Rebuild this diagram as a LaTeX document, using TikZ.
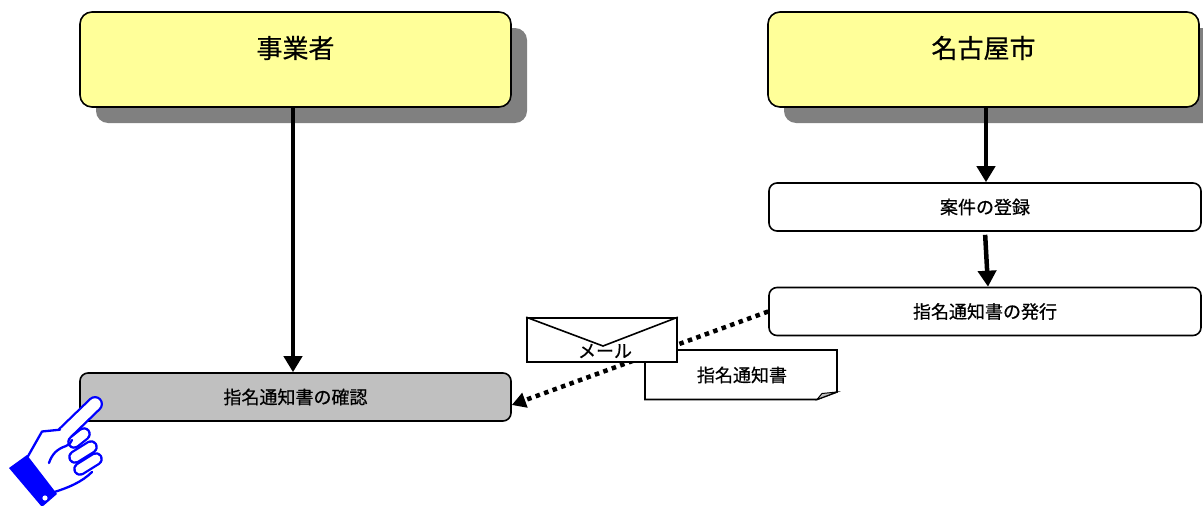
\documentclass[tikz,border=0pt]{standalone}
\usepackage{fontspec}
\setmainfont{Noto Sans CJK JP}[FakeBold=0.6]
\usetikzlibrary{arrows.meta,shadows}
\definecolor{yel}{HTML}{FFFF99}
\definecolor{shad}{HTML}{808080}
\definecolor{gbox}{HTML}{C0C0C0}
\definecolor{hblue}{HTML}{0000FF}
\tikzset{
  bigbox/.style={draw=black, line width=1.6pt, rounded corners=12pt, fill=yel,
    minimum width=431pt, minimum height=95pt, inner sep=0pt,
    drop shadow={shadow xshift=16pt, shadow yshift=-16pt, fill=shad, opacity=1}},
  bigtext/.style={font=\fontsize{26}{30}\selectfont, inner sep=0pt},
  stepbox/.style={draw=black, line width=1.6pt, rounded corners=8pt, fill=white,
    minimum width=432pt, minimum height=48pt, inner sep=0pt,
    font=\fontsize{18}{21}\selectfont},
  arr/.style={line width=4.5pt, -{Triangle[length=16pt,width=18pt]}},
  dotarr/.style={line width=4.5pt, dash pattern=on 4.5pt off 4.5pt, -{Triangle[length=14pt,width=15pt]}},
  plain/.style={draw=black, line width=1.6pt, fill=white},
  smalltext/.style={font=\fontsize{18}{21}\selectfont, inner sep=0pt},
  handline/.style={draw=hblue, line width=2.3pt, line cap=round, line join=round},
}
\begin{document}
\begin{tikzpicture}[x=1pt,y=-1pt]
\useasboundingbox (0,0) rectangle (1203,506);
% top boxes
\node[bigbox] (biz) at (295.5,59.5) {};
\node[bigtext] (bizt) at (295.5,48) {事業者};
\node[bigbox] (city) at (983.5,59.5) {};
\node[bigtext] (cityt) at (983.5,48) {名古屋市};
% step boxes
\node[stepbox] (reg) at (985,207) {案件の登録};
\node[stepbox] (iss) at (985,311.5) {指名通知書の発行};
\node[stepbox, fill=gbox, minimum width=431pt] (chk) at (295.5,397) {指名通知書の確認};
% arrows
\draw[arr] ([xshift=-2.5pt]biz.south) -- ([xshift=-2.5pt]chk.north);
\draw[arr] ([xshift=2.5pt]city.south) -- ([xshift=1pt]reg.north);
\draw[arr, shorten <=3pt] ([xshift=0pt]reg.south) -- ([xshift=3pt]iss.north);
% dotted arrow
\draw[dotarr] (iss.west) -- ([yshift=-8pt]chk.east);
% document
\path[plain] (645,350) -- (837,350) -- (837,392) -- (817,399.5) -- (645,399.5) -- cycle;
\fill[gbox, draw=black, line width=1pt] (817,399.5) -- (822,393.5) -- (837,392) -- cycle;
\node[smalltext] (doc) at (742,375) {指名通知書};
% envelope
\node[plain, minimum width=150pt, minimum height=44pt, inner sep=0pt] (env) at (602,340) {};
\draw[line width=1.6pt] (env.north west) -- (603,346) -- (env.north east);
\node[smalltext] (envt) at (605,351) {メール};
% hand: index finger
\draw[hblue, line width=16pt, line cap=round] (64,434) -- (95,404);
\draw[white, line width=11.4pt, line cap=round] (64,434) -- (95,404);
% hand body
\fill[white] (27,457) -- (42,431) -- (60,429.5) -- (72,437) -- (92,440) -- (101,468) -- (88,477) -- (52,494) -- (40,480) -- cycle;
\draw[handline] (60,429.7) -- (42,431.5) -- (27,458);
\draw[handline] (51,493) .. controls (68,488) and (82,482) .. (92,472);
% curled fingers
\draw[hblue, line width=13.6pt, line cap=round] (74,442) -- (84,434);
\draw[white, line width=9pt, line cap=round] (74,442) -- (84,434);
\draw[hblue, line width=13.6pt, line cap=round] (75,457) -- (91,447);
\draw[white, line width=9pt, line cap=round] (75,457) -- (91,447);
\draw[hblue, line width=13.6pt, line cap=round] (80,469) -- (96,459);
\draw[white, line width=9pt, line cap=round] (80,469) -- (96,459);
% thumb line
\draw[handline] (49,463) .. controls (52,454) and (57,449) .. (66,446) .. controls (69,445) and (71,443) .. (72,440);
% cuff
\fill[hblue] (9,468) -- (27,455) -- (57,494) -- (42,507) -- cycle;
\fill[white] (45,498) circle[radius=2.6pt];
\end{tikzpicture}
\end{document}
